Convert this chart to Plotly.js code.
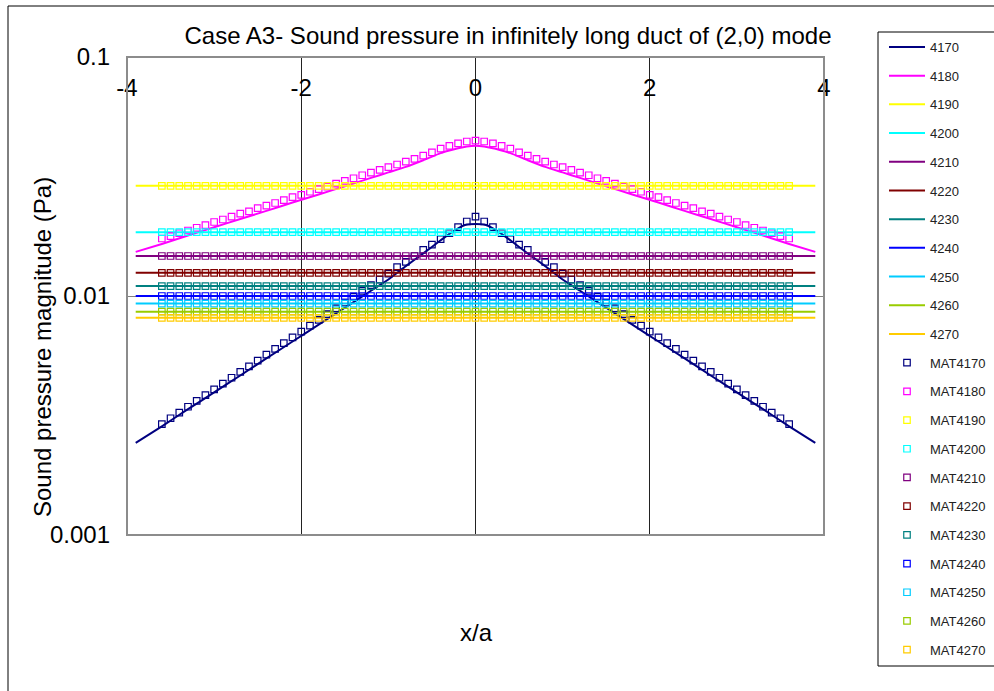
<!DOCTYPE html>
<html>
<head>
<meta charset="utf-8">
<script src="https://cdn.plot.ly/plotly-3.0.1.min.js"></script>
<style>
  html, body { margin: 0; padding: 0; background: #fff; }
  #chart { width: 994px; height: 691px; }
</style>
</head>
<body>
<div id="chart"></div>
<script>
// Sound pressure magnitude (Pa) along the duct, x/a from -4 to 4.
// Solid lines: analytical curves for each frequency; squares: MAT results.

const freqs = ['4170', '4180', '4190', '4200', '4210', '4220', '4230', '4240', '4250', '4260', '4270'];
const colors = ['#000080', '#FF00FF', '#FFFF00', '#00FFFF', '#800080', '#800000',
                '#008080', '#0000FF', '#00CCFF', '#99CC00', '#FFCC00'];

// x positions of the analytical curves
const xLine = [-3.9, -3.6, -3.3, -3.0, -2.7, -2.4, -2.1, -1.8, -1.5, -1.2, -1.0, -0.8, -0.6, -0.4, -0.3, -0.2, -0.1,
               0, 0.1, 0.2, 0.3, 0.4, 0.6, 0.8, 1.0, 1.2, 1.5, 1.8, 2.1, 2.4, 2.7, 3.0, 3.3, 3.6, 3.9];
const xEnds = [-3.9, 3.9];

const line4170 = [0.00243, 0.00285, 0.00336, 0.00395, 0.00465, 0.00548, 0.00645, 0.00759, 0.00893, 0.01052, 0.01172,
                  0.01334, 0.01507, 0.0171, 0.0182, 0.0192, 0.0199, 0.0200, 0.0199, 0.0192, 0.0182, 0.0171, 0.01507,
                  0.01334, 0.01172, 0.01052, 0.00893, 0.00759, 0.00645, 0.00548, 0.00465, 0.00395, 0.00336, 0.00285, 0.00243];
const line4180 = [0.0153, 0.0165, 0.0179, 0.0194, 0.0210, 0.0227, 0.0246, 0.0266, 0.0288, 0.0312, 0.0329,
                  0.0347, 0.0370, 0.0396, 0.0406, 0.0415, 0.0422, 0.0425, 0.0422, 0.0415, 0.0406, 0.0396, 0.0370,
                  0.0347, 0.0329, 0.0312, 0.0288, 0.0266, 0.0246, 0.0227, 0.0210, 0.0194, 0.0179, 0.0165, 0.0153];
const line4190 = [0.0289, 0.0289];
const line4200 = [0.0185, 0.0185];
const line4210 = [0.0147, 0.0147];
const line4220 = [0.0125, 0.0125];
const line4230 = [0.0110, 0.0110];
const line4240 = [0.0100, 0.0100];
const line4250 = [0.0093, 0.0093];
const line4260 = [0.0086, 0.0086];
const line4270 = [0.0081, 0.0081];

// x positions of the MAT sample points
const xMat = [-3.6, -3.5, -3.4, -3.3, -3.2, -3.1, -3.0, -2.9, -2.8, -2.7,
              -2.6, -2.5, -2.4, -2.3, -2.2, -2.1, -2.0, -1.9, -1.8, -1.7,
              -1.6, -1.5, -1.4, -1.3, -1.2, -1.1, -1.0, -0.9, -0.8, -0.7,
              -0.6, -0.5, -0.4, -0.3, -0.2, -0.1, 0, 0.1, 0.2, 0.3,
              0.4, 0.5, 0.6, 0.7, 0.8, 0.9, 1.0, 1.1, 1.2, 1.3,
              1.4, 1.5, 1.6, 1.7, 1.8, 1.9, 2.0, 2.1, 2.2, 2.3,
              2.4, 2.5, 2.6, 2.7, 2.8, 2.9, 3.0, 3.1, 3.2, 3.3,
              3.4, 3.5, 3.6];

const mat4170 = [0.00291, 0.00308, 0.00325, 0.00344, 0.00364, 0.00385, 0.00407, 0.00430, 0.00455, 0.00481,
                 0.00508, 0.00537, 0.00568, 0.00601, 0.00635, 0.00671, 0.00710, 0.00751, 0.00794, 0.00839,
                 0.00887, 0.00938, 0.00992, 0.0105, 0.0111, 0.0117, 0.0124, 0.0132, 0.0139, 0.0147,
                 0.0156, 0.0164, 0.0173, 0.0183, 0.0194, 0.0205, 0.0215, 0.0205, 0.0194, 0.0183,
                 0.0173, 0.0164, 0.0156, 0.0147, 0.0139, 0.0132, 0.0124, 0.0117, 0.0111, 0.0105,
                 0.00992, 0.00938, 0.00887, 0.00839, 0.00794, 0.00751, 0.00710, 0.00671, 0.00635, 0.00601,
                 0.00568, 0.00537, 0.00508, 0.00481, 0.00455, 0.00430, 0.00407, 0.00385, 0.00364, 0.00344,
                 0.00325, 0.00308, 0.00291];
const mat4180 = [0.0174, 0.0178, 0.0183, 0.0188, 0.0193, 0.0198, 0.0204, 0.0209, 0.0215, 0.0221,
                 0.0226, 0.0233, 0.0239, 0.0245, 0.0252, 0.0259, 0.0265, 0.0273, 0.0280, 0.0287,
                 0.0295, 0.0303, 0.0311, 0.0320, 0.0328, 0.0337, 0.0346, 0.0355, 0.0365, 0.0375,
                 0.0387, 0.0399, 0.0414, 0.0425, 0.0435, 0.0443, 0.0447, 0.0443, 0.0435, 0.0425,
                 0.0414, 0.0399, 0.0387, 0.0375, 0.0365, 0.0355, 0.0346, 0.0337, 0.0328, 0.0320,
                 0.0311, 0.0303, 0.0295, 0.0287, 0.0280, 0.0273, 0.0265, 0.0259, 0.0252, 0.0245,
                 0.0239, 0.0233, 0.0226, 0.0221, 0.0215, 0.0209, 0.0204, 0.0198, 0.0193, 0.0188,
                 0.0183, 0.0178, 0.0174];
const mat4190 = [0.0289, 0.0289, 0.0289, 0.0289, 0.0289, 0.0289, 0.0289, 0.0289, 0.0289, 0.0289,
                 0.0289, 0.0289, 0.0289, 0.0289, 0.0289, 0.0289, 0.0289, 0.0289, 0.0289, 0.0289,
                 0.0289, 0.0289, 0.0289, 0.0289, 0.0289, 0.0289, 0.0289, 0.0289, 0.0289, 0.0289,
                 0.0289, 0.0289, 0.0289, 0.0289, 0.0289, 0.0289, 0.0289, 0.0289, 0.0289, 0.0289,
                 0.0289, 0.0289, 0.0289, 0.0289, 0.0289, 0.0289, 0.0289, 0.0289, 0.0289, 0.0289,
                 0.0289, 0.0289, 0.0289, 0.0289, 0.0289, 0.0289, 0.0289, 0.0289, 0.0289, 0.0289,
                 0.0289, 0.0289, 0.0289, 0.0289, 0.0289, 0.0289, 0.0289, 0.0289, 0.0289, 0.0289,
                 0.0289, 0.0289, 0.0289];
const mat4200 = [0.0185, 0.0185, 0.0185, 0.0185, 0.0185, 0.0185, 0.0185, 0.0185, 0.0185, 0.0185,
                 0.0185, 0.0185, 0.0185, 0.0185, 0.0185, 0.0185, 0.0185, 0.0185, 0.0185, 0.0185,
                 0.0185, 0.0185, 0.0185, 0.0185, 0.0185, 0.0185, 0.0185, 0.0185, 0.0185, 0.0185,
                 0.0185, 0.0185, 0.0185, 0.0185, 0.0185, 0.0185, 0.0185, 0.0185, 0.0185, 0.0185,
                 0.0185, 0.0185, 0.0185, 0.0185, 0.0185, 0.0185, 0.0185, 0.0185, 0.0185, 0.0185,
                 0.0185, 0.0185, 0.0185, 0.0185, 0.0185, 0.0185, 0.0185, 0.0185, 0.0185, 0.0185,
                 0.0185, 0.0185, 0.0185, 0.0185, 0.0185, 0.0185, 0.0185, 0.0185, 0.0185, 0.0185,
                 0.0185, 0.0185, 0.0185];
const mat4210 = [0.0147, 0.0147, 0.0147, 0.0147, 0.0147, 0.0147, 0.0147, 0.0147, 0.0147, 0.0147,
                 0.0147, 0.0147, 0.0147, 0.0147, 0.0147, 0.0147, 0.0147, 0.0147, 0.0147, 0.0147,
                 0.0147, 0.0147, 0.0147, 0.0147, 0.0147, 0.0147, 0.0147, 0.0147, 0.0147, 0.0147,
                 0.0147, 0.0147, 0.0147, 0.0147, 0.0147, 0.0147, 0.0147, 0.0147, 0.0147, 0.0147,
                 0.0147, 0.0147, 0.0147, 0.0147, 0.0147, 0.0147, 0.0147, 0.0147, 0.0147, 0.0147,
                 0.0147, 0.0147, 0.0147, 0.0147, 0.0147, 0.0147, 0.0147, 0.0147, 0.0147, 0.0147,
                 0.0147, 0.0147, 0.0147, 0.0147, 0.0147, 0.0147, 0.0147, 0.0147, 0.0147, 0.0147,
                 0.0147, 0.0147, 0.0147];
const mat4220 = [0.0125, 0.0125, 0.0125, 0.0125, 0.0125, 0.0125, 0.0125, 0.0125, 0.0125, 0.0125,
                 0.0125, 0.0125, 0.0125, 0.0125, 0.0125, 0.0125, 0.0125, 0.0125, 0.0125, 0.0125,
                 0.0125, 0.0125, 0.0125, 0.0125, 0.0125, 0.0125, 0.0125, 0.0125, 0.0125, 0.0125,
                 0.0125, 0.0125, 0.0125, 0.0125, 0.0125, 0.0125, 0.0125, 0.0125, 0.0125, 0.0125,
                 0.0125, 0.0125, 0.0125, 0.0125, 0.0125, 0.0125, 0.0125, 0.0125, 0.0125, 0.0125,
                 0.0125, 0.0125, 0.0125, 0.0125, 0.0125, 0.0125, 0.0125, 0.0125, 0.0125, 0.0125,
                 0.0125, 0.0125, 0.0125, 0.0125, 0.0125, 0.0125, 0.0125, 0.0125, 0.0125, 0.0125,
                 0.0125, 0.0125, 0.0125];
const mat4230 = [0.0110, 0.0110, 0.0110, 0.0110, 0.0110, 0.0110, 0.0110, 0.0110, 0.0110, 0.0110,
                 0.0110, 0.0110, 0.0110, 0.0110, 0.0110, 0.0110, 0.0110, 0.0110, 0.0110, 0.0110,
                 0.0110, 0.0110, 0.0110, 0.0110, 0.0110, 0.0110, 0.0110, 0.0110, 0.0110, 0.0110,
                 0.0110, 0.0110, 0.0110, 0.0110, 0.0110, 0.0110, 0.0110, 0.0110, 0.0110, 0.0110,
                 0.0110, 0.0110, 0.0110, 0.0110, 0.0110, 0.0110, 0.0110, 0.0110, 0.0110, 0.0110,
                 0.0110, 0.0110, 0.0110, 0.0110, 0.0110, 0.0110, 0.0110, 0.0110, 0.0110, 0.0110,
                 0.0110, 0.0110, 0.0110, 0.0110, 0.0110, 0.0110, 0.0110, 0.0110, 0.0110, 0.0110,
                 0.0110, 0.0110, 0.0110];
const mat4240 = [0.0100, 0.0100, 0.0100, 0.0100, 0.0100, 0.0100, 0.0100, 0.0100, 0.0100, 0.0100,
                 0.0100, 0.0100, 0.0100, 0.0100, 0.0100, 0.0100, 0.0100, 0.0100, 0.0100, 0.0100,
                 0.0100, 0.0100, 0.0100, 0.0100, 0.0100, 0.0100, 0.0100, 0.0100, 0.0100, 0.0100,
                 0.0100, 0.0100, 0.0100, 0.0100, 0.0100, 0.0100, 0.0100, 0.0100, 0.0100, 0.0100,
                 0.0100, 0.0100, 0.0100, 0.0100, 0.0100, 0.0100, 0.0100, 0.0100, 0.0100, 0.0100,
                 0.0100, 0.0100, 0.0100, 0.0100, 0.0100, 0.0100, 0.0100, 0.0100, 0.0100, 0.0100,
                 0.0100, 0.0100, 0.0100, 0.0100, 0.0100, 0.0100, 0.0100, 0.0100, 0.0100, 0.0100,
                 0.0100, 0.0100, 0.0100];
const mat4250 = [0.0093, 0.0093, 0.0093, 0.0093, 0.0093, 0.0093, 0.0093, 0.0093, 0.0093, 0.0093,
                 0.0093, 0.0093, 0.0093, 0.0093, 0.0093, 0.0093, 0.0093, 0.0093, 0.0093, 0.0093,
                 0.0093, 0.0093, 0.0093, 0.0093, 0.0093, 0.0093, 0.0093, 0.0093, 0.0093, 0.0093,
                 0.0093, 0.0093, 0.0093, 0.0093, 0.0093, 0.0093, 0.0093, 0.0093, 0.0093, 0.0093,
                 0.0093, 0.0093, 0.0093, 0.0093, 0.0093, 0.0093, 0.0093, 0.0093, 0.0093, 0.0093,
                 0.0093, 0.0093, 0.0093, 0.0093, 0.0093, 0.0093, 0.0093, 0.0093, 0.0093, 0.0093,
                 0.0093, 0.0093, 0.0093, 0.0093, 0.0093, 0.0093, 0.0093, 0.0093, 0.0093, 0.0093,
                 0.0093, 0.0093, 0.0093];
const mat4260 = [0.0086, 0.0086, 0.0086, 0.0086, 0.0086, 0.0086, 0.0086, 0.0086, 0.0086, 0.0086,
                 0.0086, 0.0086, 0.0086, 0.0086, 0.0086, 0.0086, 0.0086, 0.0086, 0.0086, 0.0086,
                 0.0086, 0.0086, 0.0086, 0.0086, 0.0086, 0.0086, 0.0086, 0.0086, 0.0086, 0.0086,
                 0.0086, 0.0086, 0.0086, 0.0086, 0.0086, 0.0086, 0.0086, 0.0086, 0.0086, 0.0086,
                 0.0086, 0.0086, 0.0086, 0.0086, 0.0086, 0.0086, 0.0086, 0.0086, 0.0086, 0.0086,
                 0.0086, 0.0086, 0.0086, 0.0086, 0.0086, 0.0086, 0.0086, 0.0086, 0.0086, 0.0086,
                 0.0086, 0.0086, 0.0086, 0.0086, 0.0086, 0.0086, 0.0086, 0.0086, 0.0086, 0.0086,
                 0.0086, 0.0086, 0.0086];
const mat4270 = [0.0081, 0.0081, 0.0081, 0.0081, 0.0081, 0.0081, 0.0081, 0.0081, 0.0081, 0.0081,
                 0.0081, 0.0081, 0.0081, 0.0081, 0.0081, 0.0081, 0.0081, 0.0081, 0.0081, 0.0081,
                 0.0081, 0.0081, 0.0081, 0.0081, 0.0081, 0.0081, 0.0081, 0.0081, 0.0081, 0.0081,
                 0.0081, 0.0081, 0.0081, 0.0081, 0.0081, 0.0081, 0.0081, 0.0081, 0.0081, 0.0081,
                 0.0081, 0.0081, 0.0081, 0.0081, 0.0081, 0.0081, 0.0081, 0.0081, 0.0081, 0.0081,
                 0.0081, 0.0081, 0.0081, 0.0081, 0.0081, 0.0081, 0.0081, 0.0081, 0.0081, 0.0081,
                 0.0081, 0.0081, 0.0081, 0.0081, 0.0081, 0.0081, 0.0081, 0.0081, 0.0081, 0.0081,
                 0.0081, 0.0081, 0.0081];

// axis ticks
const xTickVals = [-4, -2, 0, 2, 4];
const xTickText = ['-4', '-2', '0', '2', '4'];
const yTickVals = [0.001, 0.01, 0.1];
const yTickText = ['0.001', '0.01', '0.1'];

const lineSeries = [
  [xLine, line4170], [xLine, line4180], [xEnds, line4190], [xEnds, line4200], [xEnds, line4210],
  [xEnds, line4220], [xEnds, line4230], [xEnds, line4240], [xEnds, line4250], [xEnds, line4260], [xEnds, line4270]
];
const matSeries = [mat4170, mat4180, mat4190, mat4200, mat4210, mat4220, mat4230, mat4240, mat4250, mat4260, mat4270];

const FONT = 'Liberation Sans, Arial, sans-serif';
const traces = [];

lineSeries.forEach((s, i) => {
  traces.push({
    type: 'scatter', mode: 'lines', name: freqs[i],
    x: s[0], y: s[1],
    line: { color: colors[i], width: 2, shape: 'spline', smoothing: 0.5 },
    legendgroup: 'L' + i, hoverinfo: 'x+y+name'
  });
});
matSeries.forEach((m, i) => {
  traces.push({
    type: 'scatter', mode: 'markers', name: 'MAT' + freqs[i],
    x: xMat, y: m,
    marker: { symbol: 'square-open', size: 6.5, color: colors[i], line: { color: colors[i], width: 1.2 } },
    legendgroup: 'M' + i, hoverinfo: 'x+y+name'
  });
});

// plot area: 127..824 px horizontally, 57..535 px vertically
const pxX = px => (px - 127) / 697;
const pxY = py => (535 - py) / 478;

const layout = {
  width: 994, height: 691,
  margin: { l: 127, r: 170, t: 57, b: 156, autoexpand: false },
  paper_bgcolor: '#ffffff', plot_bgcolor: '#ffffff',
  font: { family: FONT, color: '#000' },
  showlegend: true,
  title: {
    text: 'Case A3- Sound pressure in infinitely long duct of (2,0) mode',
    font: { family: FONT, size: 24, color: '#000' },
    xref: 'paper', x: pxX(508), xanchor: 'center',
    yref: 'container', y: 1 - 36 / 691, yanchor: 'middle'
  },
  xaxis: {
    range: [-4, 4], anchor: 'free', position: pxY(71), side: 'bottom',
    tickvals: xTickVals, ticktext: xTickText,
    tickfont: { family: FONT, size: 24, color: '#000' },
    showgrid: true, gridcolor: '#222', gridwidth: 1,
    zeroline: false, showline: false, ticks: ''
  },
  yaxis: {
    type: 'log', range: [-3, -1],
    tickvals: yTickVals, ticktext: yTickText,
    tickfont: { family: FONT, size: 24, color: '#000' },
    showgrid: true, gridcolor: '#808080', gridwidth: 1,
    zeroline: false, showline: false, ticks: '', ticklabelstandoff: 16
  },
  legend: {
    x: pxX(884), xanchor: 'left', y: pxY(32), yanchor: 'top',
    font: { family: FONT, size: 13, color: '#222' },
    bgcolor: 'rgba(0,0,0,0)', borderwidth: 0, maxheight: 700,
    itemwidth: 36, tracegroupgap: 8.8, traceorder: 'grouped'
  },
  shapes: [
    // plot area frame
    { type: 'rect', xref: 'paper', yref: 'paper', x0: 0, x1: 1, y0: 0, y1: 1,
      line: { color: '#8c8c8c', width: 2 }, layer: 'above' },
    // legend frame
    { type: 'rect', xref: 'paper', yref: 'paper', x0: pxX(878), x1: pxX(1010), y0: pxY(666), y1: pxY(32),
      line: { color: '#000', width: 1 }, layer: 'above' },
    // chart area frame
    { type: 'rect', xref: 'paper', yref: 'paper', x0: pxX(8), x1: pxX(1020), y0: pxY(710), y1: pxY(6),
      line: { color: '#000', width: 1 }, layer: 'above' }
  ],
  annotations: [
    { text: 'Sound pressure magnitude (Pa)', xref: 'paper', yref: 'paper', x: pxX(42), y: pxY(347),
      textangle: -90, showarrow: false, xanchor: 'center', yanchor: 'middle',
      font: { family: FONT, size: 24, color: '#000' } },
    { text: 'x/a', xref: 'paper', yref: 'paper', x: pxX(476), y: pxY(632),
      showarrow: false, xanchor: 'center', yanchor: 'middle',
      font: { family: FONT, size: 24, color: '#000' } }
  ]
};

Plotly.newPlot('chart', traces, layout, { displayModeBar: false, staticPlot: true });
</script>
</body>
</html>
